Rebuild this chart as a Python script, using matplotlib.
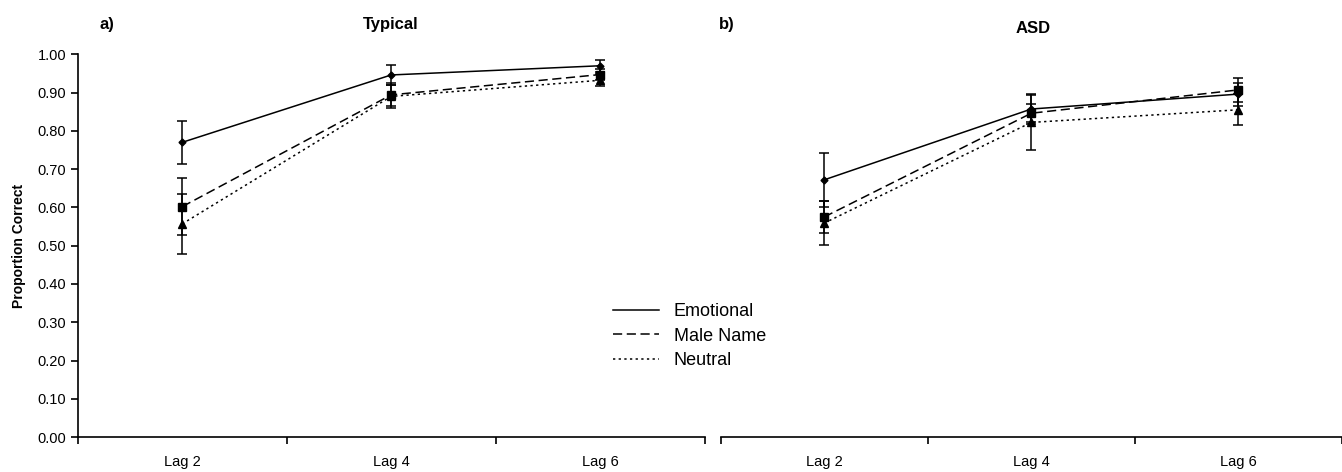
import matplotlib
matplotlib.use("Agg")
import matplotlib.pyplot as plt
import numpy as np

plt.rcParams['font.family'] = ['Liberation Sans', 'DejaVu Sans']

lags = ["Lag 2", "Lag 4", "Lag 6"]
conditions = ["Emotional", "Male Name", "Neutral"]

# Typical group: means and error bar half-widths
typ_emotional = [0.770, 0.946, 0.970]
typ_male = [0.602, 0.894, 0.947]
typ_neutral = [0.557, 0.890, 0.932]
typ_emotional_err = [0.057, 0.026, 0.015]
typ_male_err = [0.074, 0.030, 0.015]
typ_neutral_err = [0.078, 0.030, 0.016]

# ASD group
asd_emotional = [0.672, 0.857, 0.896]
asd_male = [0.575, 0.846, 0.907]
asd_neutral = [0.559, 0.822, 0.855]
asd_emotional_err = [0.071, 0.040, 0.030]
asd_male_err = [0.042, 0.024, 0.032]
asd_neutral_err = [0.057, 0.072, 0.041]

styles = {
    "Emotional": dict(ls="-", marker="D", ms=3.5),
    "Male Name": dict(ls=(0, (6, 3)), marker="s", ms=5.5),
    "Neutral": dict(ls=(0, (1.5, 2.2)), marker="^", ms=5.5),
}

fig = plt.figure(figsize=(13.42, 4.72), dpi=100)
ax_a = fig.add_axes([0.058, 0.074, 0.467, 0.811])
ax_b = fig.add_axes([0.537, 0.074, 0.463, 0.811])

x = np.arange(len(lags))


def draw_panel(ax, series, errs):
    for name, vals, err in zip(conditions, series, errs):
        st = styles[name]
        ax.errorbar(x, vals, yerr=err, fmt="none", ecolor="black",
                    elinewidth=1.1, capsize=3.5, capthick=1.1, zorder=2)
        ax.plot(x, vals, color="black", lw=1.1, ls=st["ls"],
                marker=st["marker"], ms=st["ms"], mfc="black",
                mec="black", zorder=3, label=name)
    ax.set_xlim(-0.5, 2.5)
    ax.set_ylim(0, 1.0)
    ax.set_xticks(x)
    ax.set_xticklabels(lags, fontsize=10.5)
    ax.tick_params(axis="x", length=0, pad=13)
    ax.set_xticks([-0.5, 0.5, 1.5, 2.5], minor=True)
    ax.tick_params(axis="x", which="minor", length=5, width=1.2, direction="out")
    ax.spines["top"].set_visible(False)
    ax.spines["right"].set_visible(False)
    ax.spines["bottom"].set_linewidth(1.2)


draw_panel(ax_a, [typ_emotional, typ_male, typ_neutral],
           [typ_emotional_err, typ_male_err, typ_neutral_err])
draw_panel(ax_b, [asd_emotional, asd_male, asd_neutral],
           [asd_emotional_err, asd_male_err, asd_neutral_err])

# left panel y axis
yt = np.arange(0, 1.01, 0.1)
ax_a.set_yticks(yt)
ax_a.set_yticklabels([f"{v:.2f}" for v in yt], fontsize=10.5)
ax_a.tick_params(axis="y", length=5, width=1.2, direction="out")
ax_a.spines["left"].set_linewidth(1.2)
ax_a.set_ylabel("Proportion Correct", fontsize=10, fontweight="bold", labelpad=8)

# right panel has no y axis
ax_b.spines["left"].set_visible(False)
ax_b.set_yticks([])

fig.text(0.074, 0.949, "a)", fontsize=12, fontweight="bold", ha="left", va="center")
fig.text(0.291, 0.949, "Typical", fontsize=12, fontweight="bold", ha="center", va="center")
fig.text(0.536, 0.949, "b)", fontsize=12, fontweight="bold", ha="left", va="center")
fig.text(0.770, 0.939, "ASD", fontsize=12, fontweight="bold", ha="center", va="center")

leg_handles = [plt.Line2D([0], [0], color="black", lw=1.1, ls=styles[n]["ls"])
               for n in conditions]
fig.legend(leg_handles, conditions, loc="upper left", bbox_to_anchor=(0.4445, 0.392),
           frameon=False, fontsize=13, handlelength=2.55, handletextpad=0.83,
           labelspacing=0.42)

fig.savefig("out.png", dpi=100)
